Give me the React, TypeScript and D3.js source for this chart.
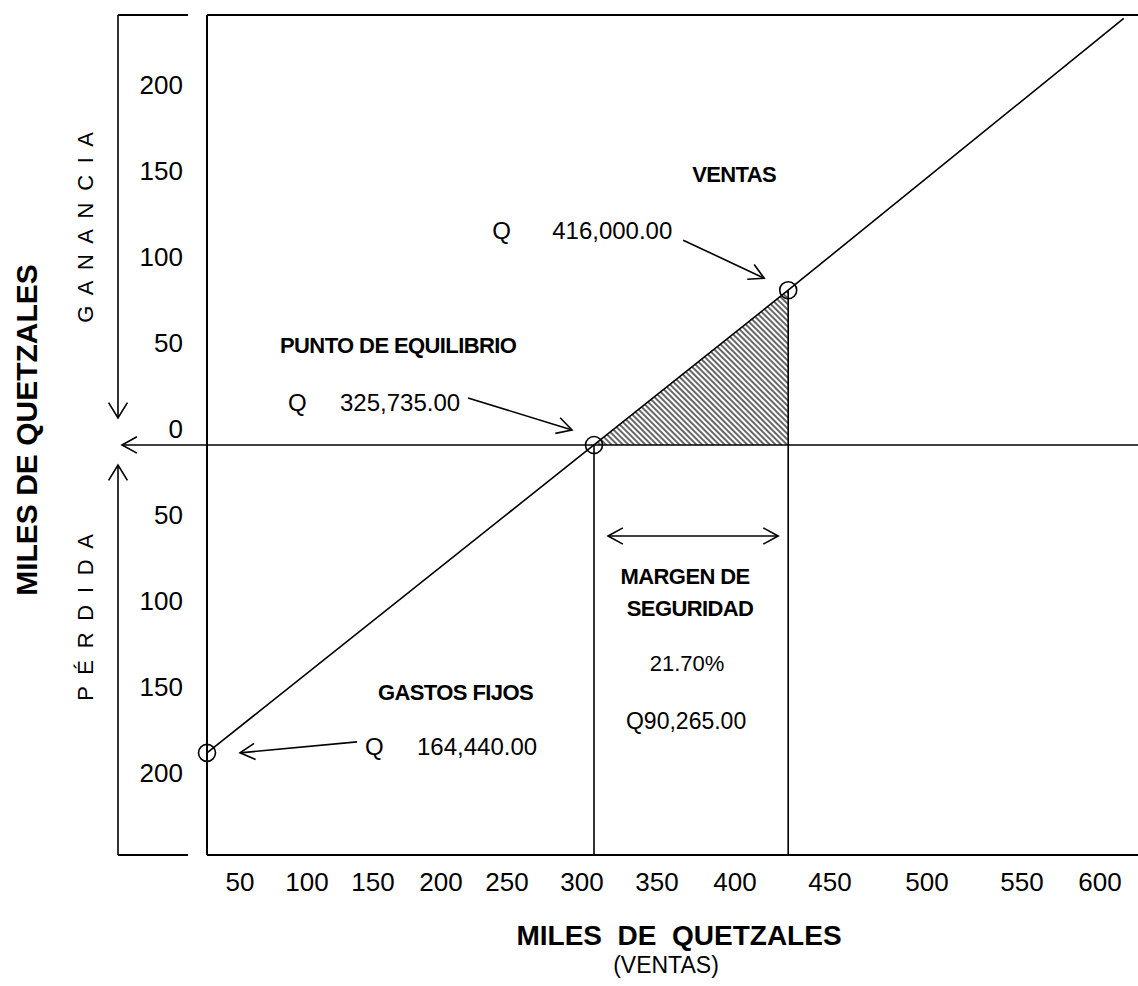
import React from "react";
import * as d3 from "d3";

// ---------- DATA (miles de quetzales) ----------
const xTickValues = [50, 100, 150, 200, 250, 300, 350, 400, 450, 500, 550, 600];
const yTickValues = [200, 150, 100, 50, 0, -50, -100, -150, -200];
const xDomain = [25, 624];
const yDomain = [-238.4, 250];

// key points: gastos fijos, punto de equilibrio, ventas
const pointX = [25, 308, 428];
const pointY = [-179, 0, 90];
// cost/revenue line (through the points, up to the top of the frame)
const lineX = [25, 308, 428, 615];
const lineY = [-179, 0, 90, 248];

const pointTitles = ["GASTOS FIJOS", "PUNTO DE EQUILIBRIO", "VENTAS"];
const pointAmounts = ["164,440.00", "325,735.00", "416,000.00"];
const marginLines = ["MARGEN DE", "SEGURIDAD"];
const marginPercent = "21.70%";
const marginAmount = "Q90,265.00";
const yTitle = "MILES DE QUETZALES";
const xTitle = "MILES  DE  QUETZALES";
const xSubtitle = "(VENTAS)";
const upperLabel = "G A N A N C I A";
const lowerLabel = "P É R D I D A";

// ---------- LAYOUT ----------
const W = 1138;
const H = 986;
const FONT = "'Liberation Sans', Arial, Helvetica, sans-serif";
const X_TICK_PX = [240, 307, 373, 441, 507, 582, 657, 735, 830, 927, 1022, 1100];
const FRAME = { left: 207, right: 1138, top: 15, bottom: 855 };
const AXIS_X = 118;

function arrowHead(tx: number, ty: number, fx: number, fy: number, len = 17, ang = 0.5) {
  const a = Math.atan2(fy - ty, fx - tx);
  const p1 = [tx + len * Math.cos(a + ang), ty + len * Math.sin(a + ang)];
  const p2 = [tx + len * Math.cos(a - ang), ty + len * Math.sin(a - ang)];
  return `M${p1[0]},${p1[1]}L${tx},${ty}L${p2[0]},${p2[1]}`;
}

function Arrow({ x1, y1, x2, y2, both = false, len = 17, ang = 0.5 }: any) {
  return (
    <g fill="none" stroke="#000" strokeWidth={1.6}>
      <line x1={x1} y1={y1} x2={x2} y2={y2} />
      <path d={arrowHead(x2, y2, x1, y1, len, ang)} />
      {both && <path d={arrowHead(x1, y1, x2, y2, len, ang)} />}
    </g>
  );
}

export default function App() {
  const x = d3
    .scaleLinear()
    .domain([xDomain[0], ...xTickValues, xDomain[1]])
    .range([FRAME.left, ...X_TICK_PX, FRAME.right]);
  const y = d3.scaleLinear().domain(yDomain).range([FRAME.bottom, FRAME.top]);

  const y0 = y(0);
  const pts = pointX.map((v, i) => [x(v), y(pointY[i])]);
  const [P0, P1, P2] = pts;

  const linePath = d3
    .line<number>()
    .x((_, i) => x(lineX[i]))
    .y((_, i) => y(lineY[i]))(lineX);

  const areaPath = d3
    .area<number>()
    .x((v) => x(v))
    .y0(() => y(0))
    .y1((v, i) => y([0, pointY[2]][i]))([pointX[1], pointX[2]]);

  const bold = { fontFamily: FONT, fontWeight: 700, fontSize: 22, letterSpacing: -0.6 } as any;
  const reg = { fontFamily: FONT, fontSize: 24 } as any;
  const mid = (P1[0] + P2[0]) / 2;

  return (
    <svg
      width={W}
      height={H}
      viewBox={`0 0 ${W} ${H}`}
      style={{ position: "absolute", left: 0, top: 0, background: "#fff" }}
    >
      <defs>
        <pattern
          id="hatch"
          patternUnits="userSpaceOnUse"
          width={4}
          height={4}
          patternTransform="rotate(-45)"
        >
          <line x1={2} y1={-1} x2={2} y2={5} stroke="#333" strokeWidth={1.5} />
        </pattern>
      </defs>
      <rect x={0} y={0} width={W} height={H} fill="#fff" />

      {/* hatched profit triangle */}
      <path d={areaPath || ""} fill="url(#hatch)" stroke="none" />

      {/* frame */}
      <g stroke="#000" strokeWidth={2} fill="none">
        <line x1={FRAME.left} y1={FRAME.top} x2={FRAME.right} y2={FRAME.top} />
        <line x1={FRAME.left} y1={FRAME.bottom} x2={FRAME.right} y2={FRAME.bottom} />
        <line x1={FRAME.left} y1={FRAME.top} x2={FRAME.left} y2={FRAME.bottom} />
        <line x1={AXIS_X} y1={FRAME.top} x2={188} y2={FRAME.top} />
        <line x1={AXIS_X} y1={FRAME.bottom} x2={188} y2={FRAME.bottom} />
      </g>

      {/* left axis arrows */}
      <Arrow x1={AXIS_X} y1={FRAME.top} x2={AXIS_X} y2={y0 - 27} len={18} ang={0.55} />
      <Arrow x1={AXIS_X} y1={FRAME.bottom} x2={AXIS_X} y2={y0 + 20} len={18} ang={0.55} />
      <Arrow x1={FRAME.right} y1={y0} x2={AXIS_X + 4} y2={y0} len={17} ang={0.5} />

      {/* verticals */}
      <g stroke="#000" strokeWidth={1.6}>
        <line x1={P1[0]} y1={P1[1]} x2={P1[0]} y2={FRAME.bottom} />
        <line x1={P2[0]} y1={P2[1]} x2={P2[0]} y2={FRAME.bottom} />
      </g>

      {/* sales / cost line */}
      <path d={linePath || ""} fill="none" stroke="#000" strokeWidth={1.6} />

      {/* points */}
      {pts.map((p, i) => (
        <circle key={i} cx={p[0]} cy={p[1]} r={8.5} fill="none" stroke="#000" strokeWidth={1.6} />
      ))}

      {/* y tick labels */}
      {yTickValues.map((v, i) => (
        <text key={i} x={183} y={y(v) - 7} textAnchor="end" fontFamily={FONT} fontSize={26}>
          {Math.abs(v)}
        </text>
      ))}

      {/* x tick labels */}
      {xTickValues.map((v, i) => (
        <text key={i} x={x(v)} y={891} textAnchor="middle" fontFamily={FONT} fontSize={26}>
          {v}
        </text>
      ))}

      {/* axis titles */}
      <text
        transform={`translate(37,430) rotate(-90)`}
        textAnchor="middle"
        fontFamily={FONT}
        fontWeight={700}
        fontSize={30}
      >
        {yTitle}
      </text>
      <text
        transform={`translate(93,226) rotate(-90)`}
        textAnchor="middle"
        fontFamily={FONT}
        fontSize={22}
        letterSpacing={2.8}
        style={{ whiteSpace: "pre" }}
      >
        {upperLabel}
      </text>
      <text
        transform={`translate(93,616) rotate(-90)`}
        textAnchor="middle"
        fontFamily={FONT}
        fontSize={22}
        letterSpacing={2.8}
        style={{ whiteSpace: "pre" }}
      >
        {lowerLabel}
      </text>
      <text
        x={679}
        y={945}
        textAnchor="middle"
        fontFamily={FONT}
        fontWeight={700}
        fontSize={28}
        style={{ whiteSpace: "pre" }}
      >
        {xTitle}
      </text>
      <text x={666} y={973} textAnchor="middle" fontFamily={FONT} fontSize={23}>
        {xSubtitle}
      </text>

      {/* gastos fijos annotation */}
      <text x={P0[0] + 171} y={P0[1] - 53} {...bold}>{pointTitles[0]}</text>
      <text x={P0[0] + 158} y={P0[1] + 2} {...reg}>Q</text>
      <text x={P0[0] + 210} y={P0[1] + 2} {...reg}>{pointAmounts[0]}</text>
      <Arrow x1={P0[0] + 150} y1={P0[1] - 11} x2={P0[0] + 33} y2={P0[1]} />

      {/* punto de equilibrio annotation */}
      <text x={P1[0] - 314} y={P1[1] - 92} {...bold}>{pointTitles[1]}</text>
      <text x={P1[0] - 306} y={P1[1] - 34} {...reg}>Q</text>
      <text x={P1[0] - 254} y={P1[1] - 34} {...reg}>{pointAmounts[1]}</text>
      <Arrow x1={P1[0] - 126} y1={P1[1] - 47} x2={P1[0] - 22} y2={P1[1] - 15} />

      {/* ventas annotation */}
      <text x={P2[0] - 96} y={P2[1] - 108} {...bold}>{pointTitles[2]}</text>
      <text x={P2[0] - 296} y={P2[1] - 51} {...reg}>Q</text>
      <text x={P2[0] - 236} y={P2[1] - 51} {...reg}>{pointAmounts[2]}</text>
      <Arrow x1={P2[0] - 105} y1={P2[1] - 50} x2={P2[0] - 24} y2={P2[1] - 12} />

      {/* margen de seguridad */}
      <Arrow x1={P1[0] + 14} y1={536} x2={P2[0] - 10} y2={536} both len={17} ang={0.5} />
      <text x={mid - 6} y={584} textAnchor="middle" {...bold}>{marginLines[0]}</text>
      <text x={mid - 1} y={616} textAnchor="middle" {...bold}>{marginLines[1]}</text>
      <text x={mid - 4} y={671} textAnchor="middle" fontFamily={FONT} fontSize={22}>
        {marginPercent}
      </text>
      <text x={mid - 5} y={729} textAnchor="middle" fontFamily={FONT} fontSize={23}>
        {marginAmount}
      </text>
    </svg>
  );
}
